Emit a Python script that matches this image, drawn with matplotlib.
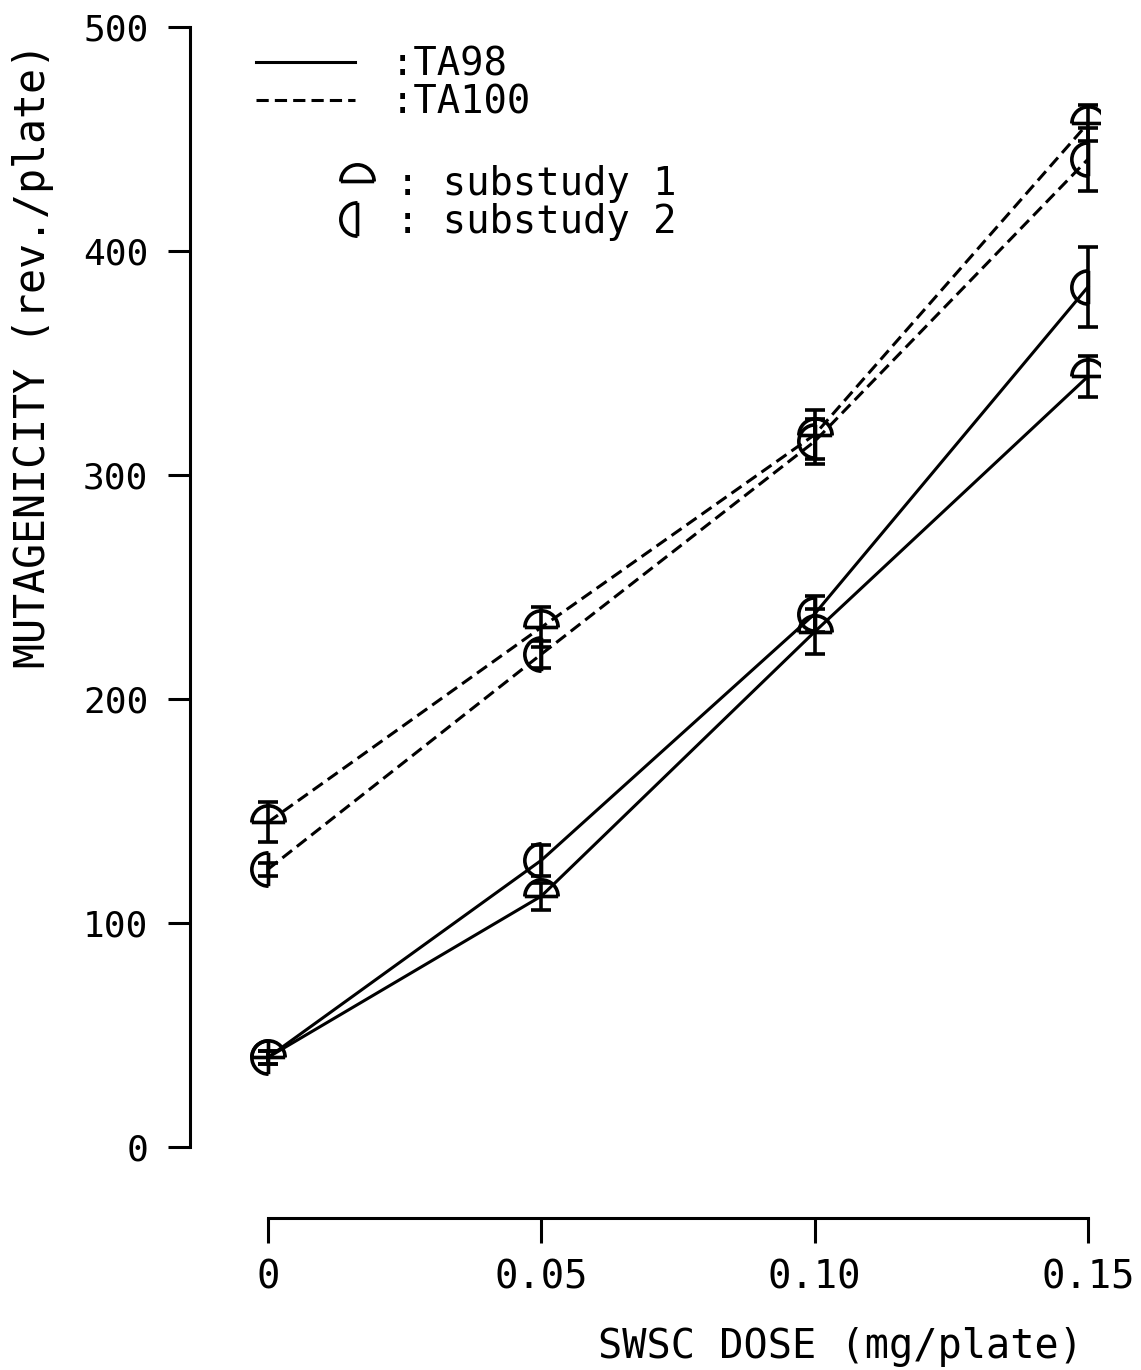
import matplotlib.pyplot as plt
import numpy as np
from matplotlib.path import Path
from matplotlib.lines import Line2D

dose = [0.0, 0.05, 0.10, 0.15]
dose_ticks = ['0', '0.05', '0.10', '0.15']

ta98_s1 = [40, 112, 230, 344]
ta98_s1_err = [3, 6, 10, 9]
ta98_s2 = [40, 128, 238, 384]
ta98_s2_err = [3, 7, 8, 18]

ta100_s1 = [145, 232, 318, 457]
ta100_s1_err = [9, 9, 11, 8]
ta100_s2 = [124, 220, 315, 441]
ta100_s2_err = [3, 6, 10, 14]

plt.rcParams['font.family'] = 'DejaVu Sans Mono'

# half circle markers like the plotter symbols
top_half = Path.make_compound_path(Path.arc(0, 180), Path([[-1, 0], [1, 0]]))
left_half = Path.make_compound_path(Path.arc(90, 270), Path([[0, -1], [0, 1]]))

fig = plt.figure(figsize=(11.41, 13.70), dpi=100)
ax = fig.add_axes([190/1141, 1 - 1218/1370, 910/1141, 1191/1370])

lw = 2.2
ms = 24
dash = (0, (4, 2))

def series(y, err, ls, mk):
    ax.errorbar(dose, y, yerr=err, color='black', ls=ls, lw=lw,
                marker=mk, ms=ms, mfc='none', mec='black', mew=lw + 0.4,
                capsize=7, capthick=lw + 0.4, elinewidth=lw + 0.4)

series(ta98_s1, ta98_s1_err, '-', top_half)
series(ta98_s2, ta98_s2_err, '-', left_half)
series(ta100_s1, ta100_s1_err, dash, top_half)
series(ta100_s2, ta100_s2_err, dash, left_half)

px_x = 0.15 / 820
ax.set_xlim(-78 * px_x, 0.15 + 12 * px_x)
ax.set_ylim(-71 / 2.24, 500)

for s in ['top', 'right']:
    ax.spines[s].set_visible(False)
ax.spines['left'].set_bounds(0, 500)
ax.spines['bottom'].set_bounds(0, 0.15)
ax.spines['left'].set_linewidth(lw)
ax.spines['bottom'].set_linewidth(lw)

ax.set_xticks(dose)
ax.set_xticklabels(dose_ticks)
ax.set_yticks([0, 100, 200, 300, 400, 500])
ax.tick_params(axis='x', direction='out', length=18, width=lw, pad=11, labelsize=28)
ax.tick_params(axis='y', direction='out', length=16, width=lw, pad=14, labelsize=26)

ax.set_xlabel('SWSC DOSE (mg/plate)', fontsize=29, ha='right', va='center')
ax.xaxis.set_label_coords(0.981, -0.108)
ax.set_ylabel('MUTAGENICITY (rev./plate)', fontsize=30, va='center')
ax.yaxis.set_label_coords(-0.173, 0.7246)

line_handles = [Line2D([], [], color='black', lw=lw),
                Line2D([], [], color='black', lw=lw, ls=dash)]
leg1 = ax.legend(line_handles, [':TA98', ':TA100'], loc='upper left',
                 bbox_to_anchor=(256/1141, 1 - 46/1370), bbox_transform=fig.transFigure,
                 frameon=False, handlelength=2.55, handletextpad=0.92, labelspacing=0.0,
                 borderpad=0, borderaxespad=0, fontsize=28)
ax.add_artist(leg1)

mark_handles = [Line2D([], [], ls='none', marker=top_half, ms=ms, mfc='none', mec='black', mew=lw + 0.4),
                Line2D([], [], ls='none', marker=left_half, ms=ms, mfc='none', mec='black', mew=lw + 0.4)]
ax.legend(mark_handles, [': substudy 1', ': substudy 2'], loc='upper left',
          bbox_to_anchor=(338/1141, 1 - 165/1370), bbox_transform=fig.transFigure,
          frameon=False, handlelength=1.0, handletextpad=0.5, labelspacing=0.0,
          borderpad=0, borderaxespad=0, fontsize=28)

fig.savefig('out.png', dpi=100)
